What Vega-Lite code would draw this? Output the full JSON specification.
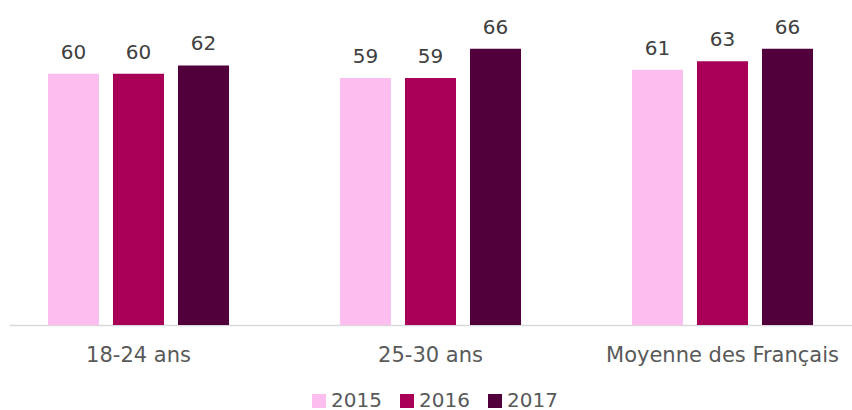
{
  "$schema": "https://vega.github.io/schema/vega-lite/v6.json",
  "width": 843,
  "height": 293,
  "autosize": {"type": "none"},
  "padding": {"left": 9, "top": 32, "right": 0, "bottom": 85},
  "background": "white",
  "config": {
    "view": {"stroke": null},
    "font": "DejaVu Sans"
  },
  "data": {
    "values": [
      {"groupe": "18-24 ans", "annee": "2015", "valeur": 60},
      {"groupe": "18-24 ans", "annee": "2016", "valeur": 60},
      {"groupe": "18-24 ans", "annee": "2017", "valeur": 62},
      {"groupe": "25-30 ans", "annee": "2015", "valeur": 59},
      {"groupe": "25-30 ans", "annee": "2016", "valeur": 59},
      {"groupe": "25-30 ans", "annee": "2017", "valeur": 66},
      {"groupe": "Moyenne des Français", "annee": "2015", "valeur": 61},
      {"groupe": "Moyenne des Français", "annee": "2016", "valeur": 63},
      {"groupe": "Moyenne des Français", "annee": "2017", "valeur": 66}
    ]
  },
  "encoding": {
    "x": {
      "field": "groupe",
      "type": "nominal",
      "sort": ["18-24 ans", "25-30 ans", "Moyenne des Français"],
      "scale": {"paddingInner": 0.332, "paddingOuter": 0.1095},
      "axis": {
        "title": null,
        "labelAngle": 0,
        "labelFontSize": 21,
        "labelColor": "#595959",
        "labelPadding": 19,
        "labelLimit": 0,
        "ticks": false,
        "domainColor": "#D9D9D9",
        "domainWidth": 1.5
      }
    },
    "xOffset": {
      "field": "annee",
      "type": "nominal",
      "scale": {"paddingInner": 0.215, "paddingOuter": 0.1077}
    },
    "y": {
      "field": "valeur",
      "type": "quantitative",
      "scale": {"domain": [0, 70], "nice": false},
      "axis": null
    }
  },
  "layer": [
    {
      "mark": {"type": "bar"},
      "encoding": {
        "color": {
          "field": "annee",
          "type": "nominal",
          "scale": {"domain": ["2015", "2016", "2017"], "range": ["#FBBEEE", "#A80056", "#51003C"]},
          "legend": {
            "title": null,
            "orient": "none",
            "legendX": 300,
            "legendY": 359,
            "direction": "horizontal",
            "symbolType": "square",
            "symbolSize": 196,
            "symbolStrokeWidth": 0,
            "labelFontSize": 20,
            "labelColor": "#595959",
            "labelOffset": 2,
            "columnPadding": 15
          }
        }
      }
    },
    {
      "mark": {"type": "text", "baseline": "alphabetic", "dy": -15, "fontSize": 20, "color": "#404040"},
      "encoding": {
        "text": {"field": "valeur", "type": "quantitative"}
      }
    }
  ]
}
